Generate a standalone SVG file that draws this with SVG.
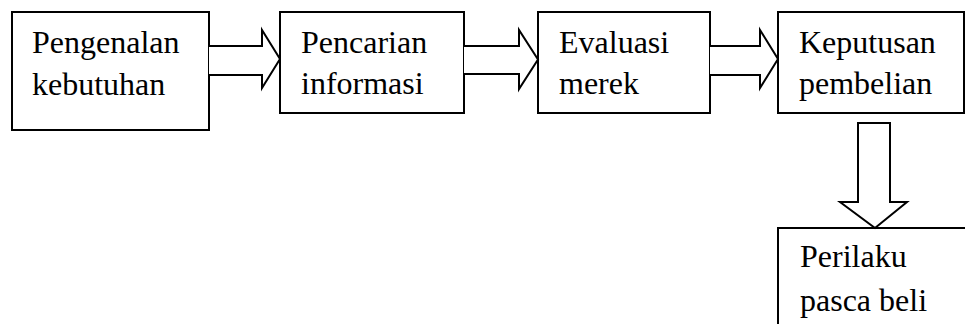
<svg xmlns="http://www.w3.org/2000/svg" width="965" height="324" viewBox="0 0 965 324">
<style>
.box{fill:#fff;stroke:#000;stroke-width:2}
.arr{fill:#fff;stroke:#000;stroke-width:2;stroke-linejoin:miter}
text{font-family:"Liberation Serif","Times New Roman",serif;font-size:32px;fill:#000}
</style>
<rect width="965" height="324" fill="#fff"/>
<g id="n1"><rect class="box" x="12" y="12" width="197" height="118"/><text x="32" y="53">Pengenalan</text><text x="32" y="95">kebutuhan</text></g>
<g id="n2"><rect class="box" x="280" y="12" width="184" height="101"/><text x="301" y="53">Pencarian</text><text x="301" y="94">informasi</text></g>
<g id="n3"><rect class="box" x="538" y="12" width="172" height="101"/><text x="559" y="53">Evaluasi</text><text x="559" y="94">merek</text></g>
<g id="n4"><rect class="box" x="778" y="12" width="186" height="101"/><text x="799" y="53">Keputusan</text><text x="799" y="94">pembelian</text></g>
<g id="n5"><rect class="box" x="778" y="228" width="200" height="110"/><text x="800" y="267">Perilaku</text><text x="800" y="311">pasca beli</text></g>
<g id="connectors">
<path class="arr" d="M209,46 H262 V30 L280,59 L262,88 V75 H209"/>
<path class="arr" d="M464,46 H519 V30 L538,59.5 L519,89 V74 H464"/>
<path class="arr" d="M710,46 H760 V30 L778,59 L760,88 V75 H710"/>
<path class="arr" d="M858,123 H890 V202 H907 L875,228 L840,202 H858 Z"/>
</g>
</svg>
